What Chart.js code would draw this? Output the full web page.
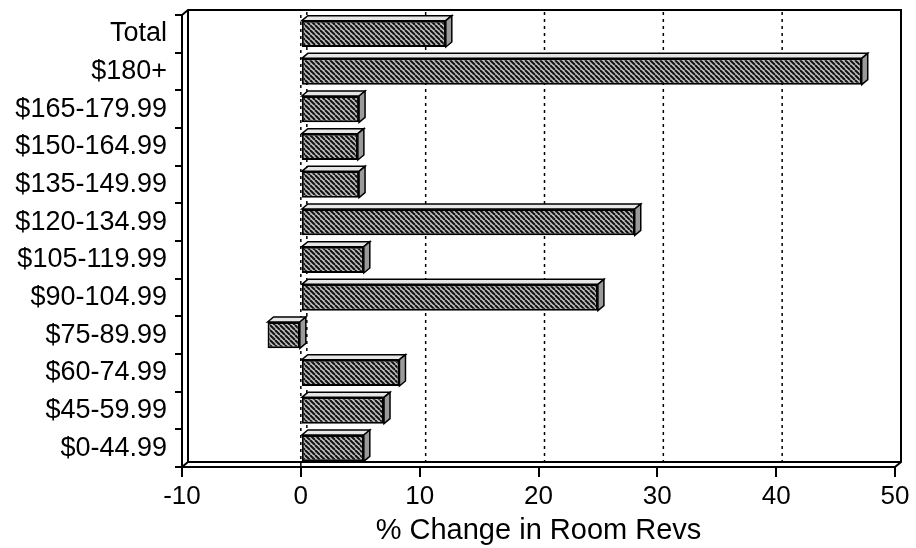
<!DOCTYPE html>
<html>
<head>
<meta charset="utf-8">
<script src="https://cdn.jsdelivr.net/npm/chart.js@4/dist/chart.umd.min.js"></script>
<style>
  body { margin: 0; background: #fff; }
  #wrap { width: 916px; height: 548px; }
</style>
</head>
<body>
<div id="wrap"><canvas id="myChart" width="916" height="548"></canvas></div>
<script>
// data
var categories = ['Total', '$180+', '$165-179.99', '$150-164.99', '$135-149.99', '$120-134.99',
                  '$105-119.99', '$90-104.99', '$75-89.99', '$60-74.99', '$45-59.99', '$0-44.99'];
var roomRevChange = [12.2, 47.2, 4.9, 4.8, 4.9, 28.1, 5.3, 25.0, -2.8, 8.3, 7.0, 5.3];
var xTicks = [-10, 0, 10, 20, 30, 40, 50];
var gridValues = [0, 10, 20, 30, 40];

var DX = 6, DY = -5; // depth of the fake 3d

function makeHatch() {
    var s = 5;
    var c = document.createElement('canvas');
    c.width = s; c.height = s;
    var g = c.getContext('2d');
    g.fillStyle = '#c0c0c0';
    g.fillRect(0, 0, s, s);
    g.strokeStyle = '#111';
    g.lineWidth = 2;
    [-s, 0, s].forEach(function(k) {
        g.beginPath();
        g.moveTo(k, 0);
        g.lineTo(k + s, s);
        g.stroke();
    });
    return g.createPattern(c, 'repeat');
}

var ctx = document.getElementById('myChart').getContext('2d');
var hatch = makeHatch();

// back wall, dotted grid and the 3d faces of the bars
var wallPlugin = {
    id: 'wall',
    beforeDatasetsDraw: function(chart) {
        var a = chart.chartArea, c = chart.ctx, xs = chart.scales.x;
        c.save();
        c.strokeStyle = '#000';
        c.lineWidth = 1.5;
        c.setLineDash([3, 4]);
        gridValues.forEach(function(v) {
            var px = xs.getPixelForValue(v);
            c.beginPath();
            c.moveTo(px + DX, a.top + DY + 2);
            c.lineTo(px + DX, a.bottom + DY);
            c.stroke();
        });
        // front zero line
        var z = xs.getPixelForValue(0);
        c.beginPath();
        c.moveTo(z, a.top);
        c.lineTo(z, a.bottom);
        c.stroke();
        c.setLineDash([]);
        c.lineWidth = 2;
        c.beginPath();
        c.moveTo(a.left, a.top);
        c.lineTo(a.left + DX, a.top + DY);
        c.lineTo(a.right + DX, a.top + DY);
        c.lineTo(a.right + DX, a.bottom + DY);
        c.lineTo(a.right, a.bottom);
        c.stroke();
        c.beginPath();
        c.moveTo(a.left + DX, a.top + DY);
        c.lineTo(a.left + DX, a.bottom + DY);
        c.lineTo(a.right + DX, a.bottom + DY);
        c.stroke();
        c.beginPath();
        c.moveTo(a.left, a.bottom);
        c.lineTo(a.left + DX, a.bottom + DY);
        c.stroke();
        c.restore();
    },
    afterDatasetsDraw: function(chart) {
        var c = chart.ctx;
        var meta = chart.getDatasetMeta(0);
        c.save();
        c.strokeStyle = '#000';
        c.lineWidth = 1.5;
        meta.data.forEach(function(bar) {
            var p = bar.getProps(['x', 'y', 'base', 'height'], true);
            var l = Math.min(p.x, p.base), r = Math.max(p.x, p.base);
            var t = p.y - p.height / 2, b = p.y + p.height / 2;
            // top
            c.beginPath();
            c.moveTo(l, t);
            c.lineTo(l + DX, t + DY);
            c.lineTo(r + DX, t + DY);
            c.lineTo(r, t);
            c.closePath();
            c.fillStyle = '#e6e6e6';
            c.fill();
            c.stroke();
            // side
            c.beginPath();
            c.moveTo(r, t);
            c.lineTo(r + DX, t + DY);
            c.lineTo(r + DX, b + DY);
            c.lineTo(r, b);
            c.closePath();
            c.fillStyle = '#9a9a9a';
            c.fill();
            c.stroke();
        });
        c.restore();
    }
};

Chart.defaults.color = '#000';
Chart.defaults.font.family = '"Liberation Sans", Arial, sans-serif';

var chart = new Chart(ctx, {
    type: 'bar',
    data: {
        labels: categories,
        datasets: [{
            label: '% Change in Room Revs',
            data: roomRevChange,
            backgroundColor: hatch,
            borderColor: '#000',
            borderWidth: 2,
            borderSkipped: false,
            categoryPercentage: 1,
            barPercentage: 0.7
        }]
    },
    options: {
        indexAxis: 'y',
        responsive: false,
        animation: false,
        layout: { padding: { top: 15, right: 21, left: 0, bottom: 0 } },
        plugins: { legend: { display: false }, tooltip: { enabled: false } },
        scales: {
            x: {
                type: 'linear',
                min: -10,
                max: 50,
                afterBuildTicks: function(axis) {
                    axis.ticks = xTicks.map(function(v) { return { value: v }; });
                },
                grid: { drawOnChartArea: false, drawTicks: true, tickLength: 10, color: '#000', lineWidth: 2 },
                border: { display: true, color: '#000', width: 2 },
                ticks: { font: { size: 26 }, padding: 4, maxRotation: 0 },
                title: { display: true, text: '% Change in Room Revs', font: { size: 29 }, padding: { top: 3, bottom: 0 } },
                afterFit: function(axis) {
                    axis.height = 81;
                    axis.paddingLeft = 0;
                    axis.paddingRight = 0;
                }
            },
            y: {
                grid: { drawOnChartArea: false, drawTicks: true, tickLength: 7, color: '#000', lineWidth: 2, offset: true },
                border: { display: true, color: '#000', width: 2 },
                ticks: { font: { size: 27 }, padding: 8, autoSkip: false },
                afterFit: function(axis) {
                    axis.width = 182;
                    axis.paddingTop = 0;
                    axis.paddingBottom = 0;
                }
            }
        }
    },
    plugins: [wallPlugin]
});
</script>
</body>
</html>
